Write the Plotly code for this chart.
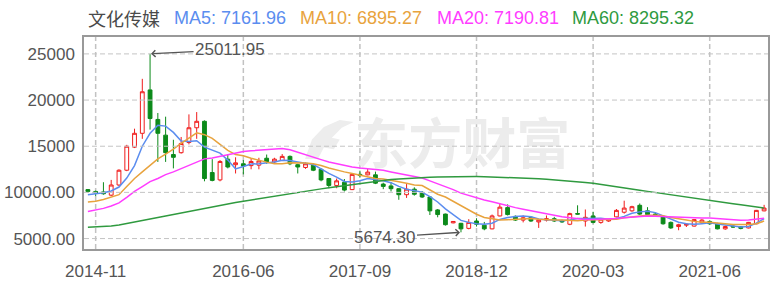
import plotly.graph_objects as go

months = [
    "2014-10", "2014-11", "2014-12",
    "2015-01", "2015-02", "2015-03", "2015-04", "2015-05", "2015-06", "2015-07", "2015-08", "2015-09", "2015-10", "2015-11", "2015-12",
    "2016-01", "2016-02", "2016-03", "2016-04", "2016-05", "2016-06", "2016-07", "2016-08", "2016-09", "2016-10", "2016-11", "2016-12",
    "2017-01", "2017-02", "2017-03", "2017-04", "2017-05", "2017-06", "2017-07", "2017-08", "2017-09", "2017-10", "2017-11", "2017-12",
    "2018-01", "2018-02", "2018-03", "2018-04", "2018-05", "2018-06", "2018-07", "2018-08", "2018-09", "2018-10", "2018-11", "2018-12",
    "2019-01", "2019-02", "2019-03", "2019-04", "2019-05", "2019-06", "2019-07", "2019-08", "2019-09", "2019-10", "2019-11", "2019-12",
    "2020-01", "2020-02", "2020-03", "2020-04", "2020-05", "2020-06", "2020-07", "2020-08", "2020-09", "2020-10", "2020-11", "2020-12",
    "2021-01", "2021-02", "2021-03", "2021-04", "2021-05", "2021-06", "2021-07", "2021-08", "2021-09", "2021-10", "2021-11", "2021-12",
    "2022-01",
]

opens = [10300, 10100, 10050, 9700, 10800, 12400, 14900, 16400, 21100, 17900, 16200, 14100, 14300, 15400, 17000,
         17700, 12150, 11350, 13600, 13000, 13100, 12900, 12950, 13700, 13300, 13450, 13900,
         13000, 12700, 12950, 12500, 11500, 10750, 11100, 10300, 11950, 11900, 11900, 10900,
         10700, 10400, 9750, 10350, 10000, 9500, 8100, 7650, 6700, 6650, 6100, 6900,
         6450, 6050, 7450, 8350, 7400, 7000, 7300, 6800, 7000, 7150, 6950, 6550,
         7700, 6900, 7450, 6750, 6900, 7350, 7850, 8000, 8600, 8000, 7650, 7350,
         6750, 6300, 6450, 6350, 6700, 6850, 6600, 6050, 6350, 6300, 6150, 6600,
         8000]
highs = [10350, 10200, 11100, 11350, 12500, 15150, 16900, 22300, 25011.95, 18600, 18200, 15700, 16000, 18450, 18700,
         17800, 13600, 13500, 14150, 13800, 13500, 13700, 13750, 14100, 13750, 14150, 14000,
         13100, 13250, 13150, 12600, 11550, 11500, 11450, 12000, 12350, 12550, 12250, 11050,
         11100, 10450, 10900, 10550, 10150, 9600, 8200, 7700, 6900, 6700, 7100, 7200,
         6800, 7600, 8850, 8700, 7500, 7500, 7400, 7050, 7500, 7350, 7050, 7800,
         8600, 8150, 7900, 7200, 7100, 8200, 9100, 8550, 8800, 8400, 7800, 7500,
         6850, 6600, 6600, 7100, 7100, 6950, 6700, 6400, 6500, 6350, 6800, 8100,
         8650]
lows = [9950, 9600, 9750, 9600, 10700, 12300, 14800, 15800, 16800, 13300, 13300, 12600, 14200, 15200, 15800,
        11200, 11200, 11200, 12600, 12050, 11950, 12500, 12500, 13100, 13150, 13400, 12950,
        12050, 12550, 12300, 11200, 10450, 10450, 10100, 10250, 11600, 11850, 10900, 10350,
        10100, 9200, 9400, 9650, 9400, 7550, 7300, 6400, 6650, 5674.30, 6000, 6300,
        5900, 6000, 7400, 7500, 6900, 6750, 6800, 6150, 6850, 6800, 6700, 6450,
        7600, 6300, 6650, 6600, 6800, 7300, 7700, 7900, 7550, 7500, 7450, 6500,
        6050, 5900, 6250, 6300, 6600, 6500, 6000, 5950, 6150, 6000, 6100, 6550,
        7950]
closes = [10100, 9950, 9850, 10800, 12400, 15000, 16400, 20900, 18000, 16400, 14300, 13800, 15300, 17000, 17700,
          11500, 11300, 13350, 12750, 13200, 12850, 13350, 13400, 13300, 13600, 13900, 13100,
          12750, 13100, 12400, 11350, 10750, 11250, 10250, 11950, 11850, 12200, 11000, 10650,
          10400, 9750, 10350, 9800, 9500, 8000, 7600, 6500, 6850, 6050, 6750, 6550,
          6050, 7450, 8400, 7600, 7000, 7250, 6900, 7000, 7150, 6900, 6800, 7700,
          7650, 7300, 6750, 7100, 7050, 8050, 8300, 8450, 7650, 7600, 7600, 6600,
          6150, 6500, 6550, 7050, 7000, 6600, 6050, 6300, 6250, 6100, 6750, 8050,
          8300]

ma5 = [9750, 9850, 9950, 10150, 10580, 11550, 12900, 15000, 16400, 17280, 17180, 16500, 15560, 15500, 15600,
       14900, 14600, 14250, 13500, 12550, 12800, 13080, 13100, 13200, 13290, 13480, 13450,
       13300, 13200, 13020, 12550, 12050, 11650, 11180, 11130, 11270, 11500, 11400, 11250,
       11050, 10650, 10350, 10230, 10030, 9530, 8960, 8220, 7580, 6970, 6750, 6600,
       6550, 6660, 7070, 7280, 7380, 7450, 7350, 7120, 7030, 6980, 6940, 7020,
       7170, 7180, 7210, 7200, 7100, 7170, 7400, 7740, 7890, 7960, 7810, 7470,
       7060, 6770, 6600, 6540, 6610, 6700, 6580, 6450, 6330, 6240, 6300, 6670,
       7161.96]
ma10 = [8970, 9050, 9220, 9470, 9750, 10630, 11510, 12220, 12920, 13630, 14150, 14680, 15320, 15920, 16450,
        16250, 15850, 15200, 14550, 14100, 13970, 13700, 13450, 13280, 13100, 13100, 13200,
        13200, 13170, 13100, 12920, 12640, 12390, 12220, 12040, 11860, 11690, 11510, 11440,
        11330, 11160, 10980, 10800, 10740, 10270, 9800, 9500, 9050, 8520, 8060, 7630,
        7280, 7100, 7000, 7040, 7100, 7100, 7180, 7100, 7040, 7000, 7000, 6930,
        6930, 7000, 7040, 7040, 7040, 7100, 7250, 7360, 7460, 7530, 7530, 7460,
        7280, 7100, 7000, 6860, 6760, 6760, 6650, 6580, 6510, 6510, 6510, 6600,
        6895.27]
ma20 = [7920, 8060, 8270, 8520, 8870, 9470, 10100, 10630, 11160, 11510, 11930, 12220, 12570, 12920, 13280,
        13630, 13730, 13910, 14150, 14330, 14430, 14500, 14580, 14680, 14760, 14760, 14610,
        14330, 14050, 13800, 13550, 13300, 13100, 12920, 12750, 12640, 12570, 12500, 12390,
        12220, 12040, 11860, 11750, 11550, 11250, 10950, 10650, 10300, 9920, 9650, 9400,
        9180, 8975, 8750, 8550, 8350, 8175, 8000, 7800, 7650, 7480, 7350, 7250,
        7150, 7070, 7060, 7080, 7120, 7170, 7240, 7320, 7380, 7430, 7420, 7380,
        7320, 7260, 7240, 7230, 7220, 7220, 7150, 7080, 7020, 6985, 7000, 7080,
        7190.81]
ma60 = [6230, 6260, 6300, 6370, 6480, 6620, 6780, 6950, 7110, 7270, 7440, 7610, 7780, 7950, 8120,
        8290, 8450, 8600, 8750, 8900, 9050, 9190, 9330, 9470, 9610, 9740, 9870,
        10000, 10130, 10260, 10380, 10500, 10620, 10740, 10860, 10980, 11090, 11200, 11300,
        11390, 11460, 11520, 11570, 11610, 11650, 11680, 11700, 11710, 11720, 11720, 11710,
        11700, 11680, 11650, 11620, 11590, 11560, 11520, 11480, 11430, 11370, 11300, 11230,
        11150, 11070, 10980, 10870, 10750, 10630, 10500, 10370, 10240, 10110, 9980, 9850,
        9720, 9590, 9460, 9340, 9220, 9100, 8980, 8870, 8760, 8650, 8540, 8420,
        8295.32]

x_tick_vals = ["2014-11", "2016-06", "2017-09", "2018-12", "2020-03", "2021-06"]
y_tick_vals = [5000, 10000, 15000, 20000, 25000]
y_tick_text = ["5000.00", "10000.00", "15000", "20000", "25000"]

title_name = "文化传媒"
ma_names = ["MA5", "MA10", "MA20", "MA60"]
ma_colors = ["#5b8def", "#e8a33d", "#ff3cff", "#2f9a3f"]
ma_series = [ma5, ma10, ma20, ma60]

peak_month, peak_value = "2015-06", 25011.95
low_month, low_value = "2018-10", 5674.30

# pixel helpers for the plot frame (left 80, right 770, top 37, bottom 254)
L, R, T, B = 80, 770, 37, 254
def px(xp):
    return (xp - L) / (R - L)
def py(yp):
    return (B - yp) / (B - T)

fig = go.Figure()
fig.add_trace(go.Candlestick(
    x=months, open=opens, high=highs, low=lows, close=closes,
    increasing=dict(line=dict(color="#f01c1c", width=1), fillcolor="#ffffff"),
    decreasing=dict(line=dict(color="#0c8a1a", width=1), fillcolor="#0c8a1a"),
    whiskerwidth=0, hoverinfo="skip", showlegend=False,
))
for name, vals, col in zip(ma_names, ma_series, ma_colors):
    fig.add_trace(go.Scatter(x=months, y=vals, mode="lines", name=name,
                             line=dict(color=col, width=1.5), hoverinfo="skip", showlegend=False))

# horizontal dashed gridlines drawn as line traces on a hidden overlay x axis spanning the full width
for yv in y_tick_vals:
    fig.add_trace(go.Scatter(x=[0, 1], y=[yv, yv], xaxis="x2", yaxis="y", mode="lines",
                             line=dict(color="#c4c4c4", width=1, dash="5px,3px"),
                             hoverinfo="skip", showlegend=False))

annotations = []
annotations.append(dict(xref="paper", yref="paper", x=px(82), y=py(18), xanchor="left", yanchor="middle",
                        text=title_name, showarrow=False,
                        font=dict(family="Noto Sans CJK SC", size=18, color="#4a4a4a")))
legend_x = [170, 297, 435, 571]
for name, vals, col, lx in zip(ma_names, ma_series, ma_colors, legend_x):
    annotations.append(dict(xref="paper", yref="paper", x=px(lx - 1), y=py(18), xanchor="left", yanchor="middle",
                            text=f"{name}: {vals[-1]:.2f}", showarrow=False,
                            font=dict(family="Liberation Sans, Arial", size=18, color=col)))
annotations.append(dict(x=peak_month, y=peak_value, xref="x", yref="y", text=f"{peak_value:.2f}",
                        showarrow=True, ax=80, ay=-4, arrowhead=4, arrowsize=1, arrowwidth=1.3,
                        arrowcolor="#555555", standoff=1,
                        font=dict(family="Liberation Sans, Arial", size=17, color="#555555")))
annotations.append(dict(x=low_month, y=low_value, xref="x", yref="y", text=f"{low_value:.2f}",
                        showarrow=True, ax=-76, ay=5, arrowhead=4, arrowsize=1, arrowwidth=1.3,
                        arrowcolor="#555555", standoff=1,
                        font=dict(family="Liberation Sans, Arial", size=17, color="#555555")))

# watermark logo (decorative path) in pixel space converted to paper space
logo_pts = [(303, 162), (310, 142), (322, 129), (338, 122), (352, 124), (340, 130), (330, 140),
            (338, 142), (332, 152), (322, 150), (316, 162)]
logo_path = "M " + " L ".join(f"{px(a):.4f},{py(b):.4f}" for a, b in logo_pts) + " Z"

grid_line = dict(color="#c2c2c2", width=1.5, dash="5px,3px")
shapes = []
for xv in x_tick_vals:
    shapes.append(dict(type="line", xref="x", yref="paper", x0=xv, x1=xv, y0=0, y1=1,
                       line=grid_line, layer="below"))
shapes += [
    dict(type="path", xref="paper", yref="paper", path=logo_path, line=dict(width=0),
         fillcolor="#ededed", layer="below"),
    dict(type="rect", xref="paper", yref="paper", x0=px(345), x1=px(578), y0=py(178), y1=py(126),
         line=dict(width=0), fillcolor="rgba(0,0,0,0)", layer="below",
         label=dict(text="东方财富", textposition="middle center",
                    font=dict(family="Noto Sans CJK SC", size=54, color="#ececec", weight="bold"))),
]

fig.update_layout(
    width=774, height=285,
    margin=dict(l=L, r=774 - R, t=T, b=285 - B),
    paper_bgcolor="#ffffff", plot_bgcolor="#ffffff",
    showlegend=False,
    annotations=annotations,
    shapes=shapes,
    xaxis=dict(type="category", range=[-0.5, len(months) - 0.5], tickvals=x_tick_vals, ticktext=x_tick_vals,
               showgrid=False,
               ticks="", ticklabelstandoff=6,
               tickfont=dict(family="Liberation Sans, Arial", size=17, color="#555555"),
               showline=True, linecolor="#999999", linewidth=1.5, mirror=True,
               rangeslider=dict(visible=False), fixedrange=True),
    xaxis2=dict(overlaying="x", range=[0, 1], visible=False, fixedrange=True),
    yaxis=dict(range=[3868, 26831], tickvals=y_tick_vals, ticktext=y_tick_text,
               showgrid=False, zeroline=False,
               ticks="", ticklabelstandoff=4,
               tickfont=dict(family="Liberation Sans, Arial", size=17, color="#555555"),
               showline=True, linecolor="#999999", linewidth=1.5, mirror=True, fixedrange=True),
)

fig.write_html("out.html")
